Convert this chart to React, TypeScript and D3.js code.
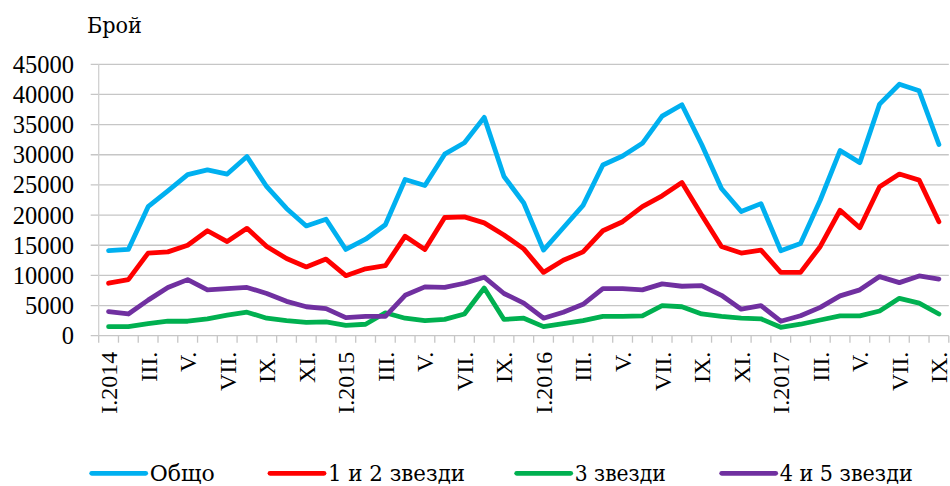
import * as d3 from "d3";

// месеци (43 категории: XI и XII.2015 липсват)
const months: string[] = [
  "I.2014", "II.", "III.", "IV.", "V.", "VI.", "VII.", "VIII.", "IX.", "X.", "XI.", "XII.",
  "I.2015", "II.", "III.", "IV.", "V.", "VI.", "VII.", "VIII.", "IX.", "X.",
  "I.2016", "II.", "III.", "IV.", "V.", "VI.", "VII.", "VIII.", "IX.", "X.", "XI.", "XII.",
  "I.2017", "II.", "III.", "IV.", "V.", "VI.", "VII.", "VIII.", "IX.",
];

const total: number[] = [
  14100, 14300, 21400, 24000, 26700, 27500, 26800, 29700, 24700, 21100, 18200, 19300,
  14300, 16000, 18400, 25900, 24900, 30100, 32000, 36200, 26400, 22000,
  14200, 17900, 21600, 28300, 29800, 31900, 36400, 38300, 31700, 24400, 20600, 21900,
  14100, 15300, 22500, 30700, 28700, 38400, 41700, 40600, 31700,
];
const stars12: number[] = [
  8700, 9300, 13700, 13900, 15000, 17400, 15600, 17800, 14800, 12800, 11400, 12700,
  9950, 11100, 11600, 16500, 14300, 19600, 19700, 18700, 16700, 14400,
  10500, 12500, 13900, 17400, 18900, 21400, 23200, 25400, 20000, 14800, 13700, 14200,
  10500, 10500, 14800, 20800, 17900, 24700, 26800, 25800, 18900,
];
const stars3: number[] = [
  1500, 1500, 2000, 2400, 2400, 2800, 3400, 3900, 2900, 2500, 2200, 2300,
  1700, 1900, 3800, 2900, 2500, 2700, 3600, 7900, 2700, 2900,
  1500, 2000, 2500, 3200, 3200, 3300, 5000, 4800, 3600, 3200, 2900, 2800,
  1400, 1900, 2600, 3300, 3300, 4100, 6200, 5400, 3600,
];
const stars45: number[] = [
  4000, 3600, 5900, 8000, 9300, 7600, 7800, 8000, 7000, 5700, 4800, 4500,
  3000, 3200, 3200, 6700, 8100, 8000, 8700, 9700, 7000, 5400,
  2900, 3900, 5200, 7800, 7800, 7600, 8600, 8200, 8300, 6700, 4400, 5000,
  2400, 3300, 4700, 6600, 7600, 9800, 8800, 9900, 9400,
];

const yTicks: number[] = [0, 5000, 10000, 15000, 20000, 25000, 30000, 35000, 40000, 45000];

const series = [
  { name: "Общо", values: total, color: "#00B0F0" },
  { name: "1 и 2 звезди", values: stars12, color: "#FF0000" },
  { name: "3 звезди", values: stars3, color: "#00B050" },
  { name: "4 и 5 звезди", values: stars45, color: "#7030A0" },
];

const W = 950;
const H = 486;
const plot = { left: 98.7, right: 948.8, top: 64.3, bottom: 335.7 };
const font = "'Liberation Serif', 'Times New Roman', serif";
// кирилица: сериф с кирилски глифове
const cyrFont = "'DejaVu Serif', 'Liberation Serif', serif";

export default function App() {
  const x = d3
    .scaleBand<number>()
    .domain(months.map((_, i) => i))
    .range([plot.left, plot.right])
    .padding(0);
  const y = d3.scaleLinear().domain([0, 45000]).range([plot.bottom, plot.top]);

  const cx = (i: number) => (x(i) || 0) + x.bandwidth() / 2;
  const line = d3
    .line<number>()
    .x((_, i) => cx(i))
    .y((d) => y(d));

  // легенда: начало на линията и ширина на текста
  const legendX = [91.7, 270, 516.7, 721.7];
  const legendW = [65, 137, 91, 133];
  const legendY = 473.3;

  return (
    <svg
      width={W}
      height={H}
      style={{ position: "absolute", left: 0, top: 0, background: "#fff" }}
      fontFamily={font}
    >
      {/* хоризонтални линии */}
      {yTicks.map((t) => (
        <line
          key={t}
          x1={plot.left - 8}
          x2={plot.right}
          y1={y(t)}
          y2={y(t)}
          stroke="#c6c6c6"
          strokeWidth={1.3}
        />
      ))}
      <line x1={plot.left} x2={plot.left} y1={plot.top} y2={plot.bottom} stroke="#d0d0d0" strokeWidth={1.3} />
      {/* отметки по X */}
      {d3.range(months.length + 1).map((i) => {
        const px = plot.left + i * x.bandwidth();
        return <line key={i} x1={px} x2={px} y1={plot.bottom} y2={plot.bottom + 7} stroke="#c6c6c6" strokeWidth={1.3} />;
      })}

      {/* Y етикети */}
      {yTicks.map((t) => (
        <text key={t} x={74} y={y(t)} dy="0.35em" textAnchor="end" fontSize={24.5} fill="#000">
          {t}
        </text>
      ))}
      <text
        x={87}
        y={33}
        fontSize={22}
        fill="#000"
        fontFamily={cyrFont}
        textLength={55}
        lengthAdjust="spacingAndGlyphs"
      >
        Брой
      </text>

      {/* X етикети, през един */}
      {months.map((m, i) =>
        i % 2 === 0 ? (
          <text
            key={i}
            transform={`translate(${cx(i)},${plot.bottom + 16}) rotate(-90)`}
            textAnchor="end"
            dy="0.35em"
            fontSize={24}
            fill="#000"
          >
            {m}
          </text>
        ) : null
      )}

      {/* линии */}
      {series.map((s) => (
        <path
          key={s.name}
          d={line(s.values) || ""}
          fill="none"
          stroke={s.color}
          strokeWidth={4.8}
          strokeLinejoin="round"
          strokeLinecap="round"
        />
      ))}

      {/* легенда */}
      {series.map((s, i) => (
        <g key={s.name} transform={`translate(${legendX[i]},${legendY})`}>
          <line x1={0} x2={54} y1={0} y2={0} stroke={s.color} strokeWidth={4.8} strokeLinecap="round" />
          <text
            x={58}
            y={0}
            dy="0.35em"
            fontSize={22}
            fill="#000"
            fontFamily={cyrFont}
            textLength={legendW[i]}
            lengthAdjust="spacingAndGlyphs"
          >
            {s.name}
          </text>
        </g>
      ))}
    </svg>
  );
}
